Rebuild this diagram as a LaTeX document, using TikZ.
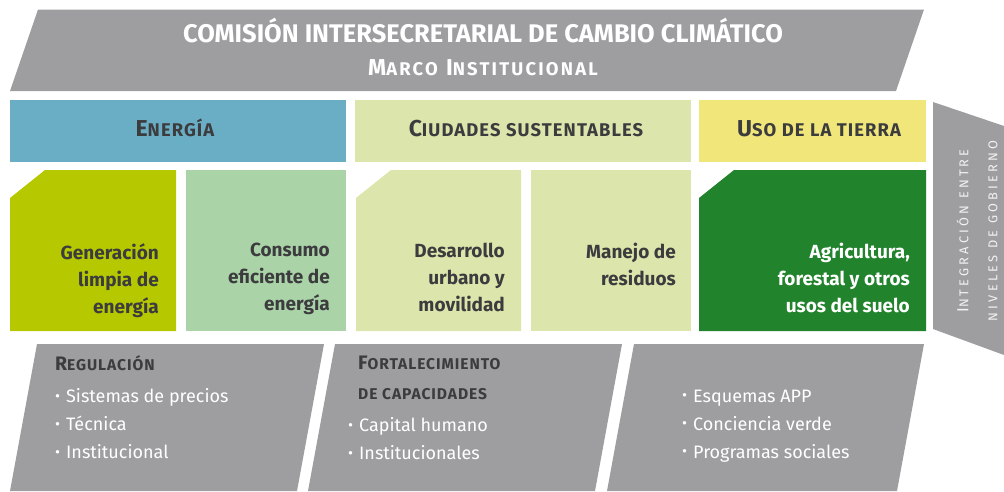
\documentclass[tikz,border=0pt]{standalone}
\usepackage{fontspec}
\setmainfont{Fira Sans}
\usetikzlibrary{positioning}

\definecolor{bandgray}{RGB}{158,158,160}
\definecolor{energiablue}{RGB}{106,174,198}
\definecolor{ciudadgreen}{RGB}{220,229,171}
\definecolor{tierrayellow}{RGB}{240,230,122}
\definecolor{limpiagreen}{RGB}{181,200,0}
\definecolor{consumogreen}{RGB}{171,211,168}
\definecolor{agrigreen}{RGB}{34,131,45}
\definecolor{inkgray}{RGB}{60,60,62}
\definecolor{sidewhite}{RGB}{242,242,242}

% versalitas simuladas: inicial grande, resto reducido
\newcommand{\fsc}[2]{#1\scalebox{0.8}{#2}}
\newcommand{\punto}{\raisebox{1.2pt}{\scalebox{0.85}{\textbullet}}\hspace{6pt}}

\begin{document}
\begin{tikzpicture}[x=1pt, y=-1pt,
    bandtitle/.style={text=white, font=\bfseries\fontsize{25.5}{28}\selectfont},
    bandsub/.style={text=white, font=\bfseries\fontsize{23}{26}\selectfont\addfontfeature{LetterSpace=12}},
    sectortext/.style={text=inkgray, font=\bfseries\fontsize{23}{26}\selectfont\addfontfeature{LetterSpace=6}},
    boxtext/.style={anchor=north east, align=right, inner sep=0pt, text=inkgray,
        font=\bfseries\fontsize{19}{27}\selectfont},
    planhead/.style={anchor=base west, inner sep=0pt, text=inkgray,
        font=\bfseries\fontsize{19.5}{30}\selectfont\addfontfeature{LetterSpace=6}},
    planlist/.style={anchor=north west, align=left, inner sep=0pt, text=white,
        font=\fontsize{18}{28}\selectfont},
    sidetext/.style={rotate=90, align=center, inner sep=0pt, text=sidewhite,
        font=\fontsize{16}{29}\selectfont\addfontfeature{LetterSpace=25}}]

    \useasboundingbox (0,0) rectangle (1004,491);

    % cabecera
    \fill[bandgray] (38,9.5) -- (924,9.5) -- (896,91) -- (10,91) -- cycle;
    \node[bandtitle, anchor=base] (comision) at (483,42) {COMISIÓN INTERSECRETARIAL DE CAMBIO CLIMÁTICO};
    \node[bandsub, anchor=base] (marco) at (483,75) {\fsc{M}{ARCO} \fsc{I}{NSTITUCIONAL}};

    % sectores
    \fill[energiablue] (10,100) rectangle (346,162);
    \fill[ciudadgreen] (355,100) rectangle (691,162);
    \fill[tierrayellow] (699,100) rectangle (926,162);
    \node[sectortext, anchor=base] (energia) at (175,136) {\fsc{E}{NERGÍA}};
    \node[sectortext, anchor=base] (ciudades) at (526,136) {\fsc{C}{IUDADES SUSTENTABLES}};
    \node[sectortext, anchor=base] (tierra) at (819,136) {\fsc{U}{SO DE LA TIERRA}};

    % acciones por sector
    \fill[limpiagreen] (10,198) -- (45,170) -- (176,170) -- (176,331) -- (10,331) -- cycle;
    \fill[consumogreen] (186,170) rectangle (346,331);
    \fill[ciudadgreen] (356,198) -- (391,170) -- (521,170) -- (521,331) -- (356,331) -- cycle;
    \fill[ciudadgreen] (531,170) rectangle (691,331);
    \fill[agrigreen] (699,198) -- (734,170) -- (926,170) -- (926,331) -- (699,331) -- cycle;

    \node[boxtext] (limpia) at (159,243) {Generación\\limpia de\\energía};
    \node[boxtext] (consumo) at (330,243) {Consumo\\eficiente de\\energía};
    \node[boxtext] (urbano) at (505,243) {Desarrollo\\urbano y\\movilidad};
    \node[boxtext] (residuos) at (676,243) {Manejo de\\residuos};
    \node[boxtext, text=white] (suelo) at (910,243) {Agricultura,\\forestal y otros\\usos del suelo};

    % integracion entre niveles
    \fill[bandgray] (933,102) -- (1004,126) -- (1004,355) -- (933,329) -- cycle;
    \node[sidetext] (niveles) at (977,231) {\fsc{I}{NTEGRACIÓN ENTRE}\\\scalebox{0.8}{NIVELES DE GOBIERNO}};

    % instrumentos
    \foreach \xa/\xb in {37/324, 335/622, 634/924}
        \fill[bandgray] (\xa,344) -- (\xb,344) -- ++(-27,147) -- (\xa-27,491) -- cycle;

    \node[planhead] (regulacion) at (55,370) {\fsc{R}{EGULACIÓN}};
    \node[planlist] (regulacion-lista) at (55,388.5) {\punto Sistemas de precios\\\punto Técnica\\\punto Institucional};

    \node[planhead, align=left, anchor=north west] (capacidades) at (358,356) {\fsc{F}{ORTALECIMIENTO}\\\scalebox{0.8}{DE CAPACIDADES}};
    \node[planlist] (capacidades-lista) at (348,417.5) {\punto Capital humano\\\punto Institucionales};

    \node[planlist] (sociales-lista) at (682,389.5) {\punto Esquemas APP\\\punto Conciencia verde\\\punto Programas sociales};
\end{tikzpicture}
\end{document}
